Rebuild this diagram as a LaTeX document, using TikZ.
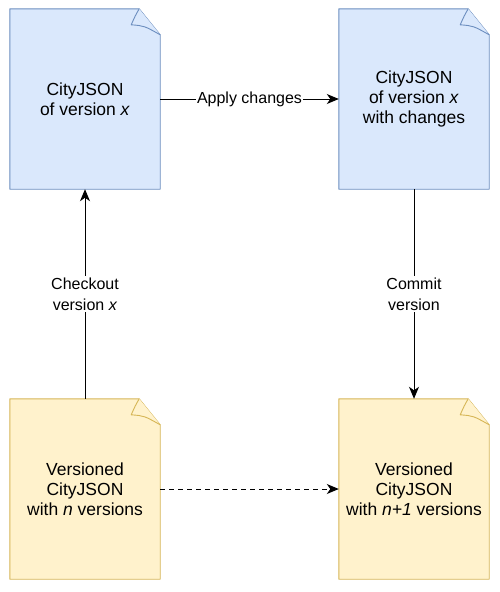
\documentclass[tikz,border=0pt]{standalone}
\usepackage{fontspec}
\setmainfont{Liberation Sans}
\usetikzlibrary{arrows.meta}
\definecolor{bluefill}{HTML}{DAE8FC}
\definecolor{bluedraw}{HTML}{6C8EBF}
\definecolor{yelfill}{HTML}{FFF2CC}
\definecolor{yeldraw}{HTML}{D6B656}
\newcommand\docoutline[3]{%
  \draw[#3,fill=#2,line width=0.9pt,line join=round]
    (#1.north west) -- ([xshift=-21pt]#1.north east) -- ([yshift=-26pt]#1.north east)
    -- (#1.south east) -- (#1.south west) -- cycle;
  \draw[#3,fill=#2,line width=0.9pt,line join=round]
    ([xshift=-21pt]#1.north east) .. controls ([xshift=-25pt,yshift=-7pt]#1.north east) .. ([xshift=-29pt,yshift=-16pt]#1.north east)
    .. controls ([xshift=-16pt,yshift=-17pt]#1.north east) .. ([yshift=-26pt]#1.north east);
}
\begin{document}
\begin{tikzpicture}[x=1pt,y=-1pt,
  docnode/.style={minimum width=150pt,minimum height=180pt,inner sep=0pt,align=center,font=\fontsize{17.5}{20}\selectfont},
  conn/.style={line width=1pt,-{Stealth[length=12pt,width=10pt,inset=3.5pt]}},
  lbl/.style={fill=white,inner sep=1.5pt,align=center,font=\fontsize{16}{21}\selectfont}]
\useasboundingbox (0,0) rectangle (500,592);
\node[docnode] (a) at (85,99) {};
\node[docnode] (b) at (414,99) {};
\node[docnode] (c) at (85,489) {};
\node[docnode] (d) at (414,489) {};
\docoutline{a}{bluefill}{bluedraw}
\docoutline{b}{bluefill}{bluedraw}
\docoutline{c}{yelfill}{yeldraw}
\docoutline{d}{yelfill}{yeldraw}
\node[docnode] at (a) {CityJSON\\of version \textit{x}};
\node[docnode] at (b) {CityJSON\\of version \textit{x}\\with changes};
\node[docnode] at (c) {Versioned\\CityJSON\\with \textit{n} versions};
\node[docnode] at (d) {Versioned\\CityJSON\\with \textit{n+1} versions};
\draw[conn] (a.east) -- node[lbl] (l1) {Apply changes} (b.west);
\draw[conn] (c.north) -- node[lbl] (l2) {Checkout\\version \textit{x}} (a.south);
\draw[conn] (b.south) -- node[lbl] (l3) {Commit\\version} (d.north);
\draw[conn,dashed,dash pattern=on 5pt off 4pt] (c.east) -- (d.west);
\end{tikzpicture}
\end{document}
